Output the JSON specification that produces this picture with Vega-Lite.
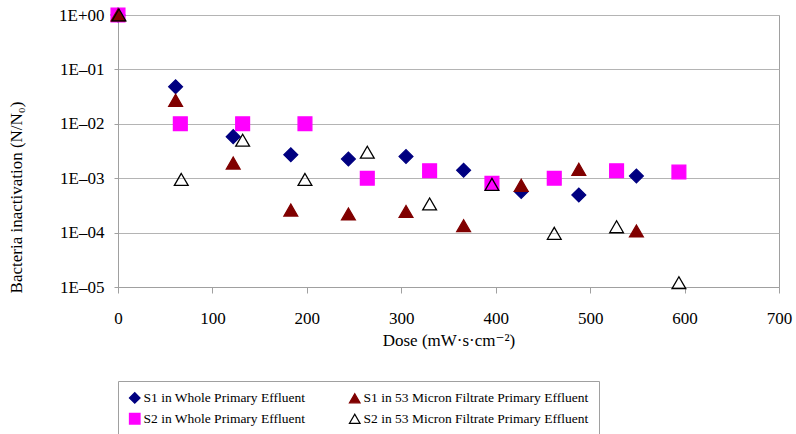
{
  "$schema": "https://vega.github.io/schema/vega-lite/v6.json",
  "width": 661,
  "height": 272,
  "autosize": {"type": "none"},
  "padding": {"left": 118, "top": 15, "right": 17, "bottom": 147},
  "background": "white",
  "data": {
    "values": [
      {"series": "S1 in Whole Primary Effluent", "dose": 0, "value": 1},
      {"series": "S1 in Whole Primary Effluent", "dose": 61, "value": 0.048},
      {"series": "S1 in Whole Primary Effluent", "dose": 122, "value": 0.0058},
      {"series": "S1 in Whole Primary Effluent", "dose": 183, "value": 0.0027},
      {"series": "S1 in Whole Primary Effluent", "dose": 244, "value": 0.00225},
      {"series": "S1 in Whole Primary Effluent", "dose": 305, "value": 0.0025},
      {"series": "S1 in Whole Primary Effluent", "dose": 366, "value": 0.0014},
      {"series": "S1 in Whole Primary Effluent", "dose": 427, "value": 0.00057},
      {"series": "S1 in Whole Primary Effluent", "dose": 488, "value": 0.00049},
      {"series": "S1 in Whole Primary Effluent", "dose": 549, "value": 0.0011},
      {"series": "S2 in Whole Primary Effluent", "dose": 0, "value": 1},
      {"series": "S2 in Whole Primary Effluent", "dose": 66, "value": 0.01},
      {"series": "S2 in Whole Primary Effluent", "dose": 132, "value": 0.01},
      {"series": "S2 in Whole Primary Effluent", "dose": 198, "value": 0.01},
      {"series": "S2 in Whole Primary Effluent", "dose": 264, "value": 0.001},
      {"series": "S2 in Whole Primary Effluent", "dose": 330, "value": 0.00137},
      {"series": "S2 in Whole Primary Effluent", "dose": 396, "value": 0.00081},
      {"series": "S2 in Whole Primary Effluent", "dose": 462, "value": 0.001},
      {"series": "S2 in Whole Primary Effluent", "dose": 528, "value": 0.00137},
      {"series": "S2 in Whole Primary Effluent", "dose": 594, "value": 0.0013},
      {"series": "S1 in 53 Micron Filtrate Primary Effluent", "dose": 0, "value": 1},
      {"series": "S1 in 53 Micron Filtrate Primary Effluent", "dose": 61, "value": 0.027},
      {"series": "S1 in 53 Micron Filtrate Primary Effluent", "dose": 122, "value": 0.0019},
      {"series": "S1 in 53 Micron Filtrate Primary Effluent", "dose": 183, "value": 0.00026},
      {"series": "S1 in 53 Micron Filtrate Primary Effluent", "dose": 244, "value": 0.00022},
      {"series": "S1 in 53 Micron Filtrate Primary Effluent", "dose": 305, "value": 0.000245},
      {"series": "S1 in 53 Micron Filtrate Primary Effluent", "dose": 366, "value": 0.000134},
      {"series": "S1 in 53 Micron Filtrate Primary Effluent", "dose": 427, "value": 0.00074},
      {"series": "S1 in 53 Micron Filtrate Primary Effluent", "dose": 488, "value": 0.00146},
      {"series": "S1 in 53 Micron Filtrate Primary Effluent", "dose": 549, "value": 0.000107},
      {"series": "S2 in 53 Micron Filtrate Primary Effluent", "dose": 1, "value": 1},
      {"series": "S2 in 53 Micron Filtrate Primary Effluent", "dose": 67, "value": 0.00095},
      {"series": "S2 in 53 Micron Filtrate Primary Effluent", "dose": 132, "value": 0.005},
      {"series": "S2 in 53 Micron Filtrate Primary Effluent", "dose": 198, "value": 0.00095},
      {"series": "S2 in 53 Micron Filtrate Primary Effluent", "dose": 264, "value": 0.003},
      {"series": "S2 in 53 Micron Filtrate Primary Effluent", "dose": 330, "value": 0.000336},
      {"series": "S2 in 53 Micron Filtrate Primary Effluent", "dose": 396, "value": 0.00077},
      {"series": "S2 in 53 Micron Filtrate Primary Effluent", "dose": 462, "value": 0.000097},
      {"series": "S2 in 53 Micron Filtrate Primary Effluent", "dose": 528, "value": 0.000128},
      {"series": "S2 in 53 Micron Filtrate Primary Effluent", "dose": 594, "value": 0.000012}
    ]
  },
  "mark": {"type": "point", "size": 190, "strokeWidth": 1.3, "opacity": 1},
  "encoding": {
    "x": {
      "field": "dose",
      "type": "quantitative",
      "scale": {"domain": [0, 700], "nice": false, "zero": true},
      "axis": {
        "values": [0, 100, 200, 300, 400, 500, 600, 700],
        "title": "Dose (mW·s·cm⁻²)",
        "grid": false,
        "tickSize": 6,
        "labelPadding": 17,
        "titlePadding": 6
      }
    },
    "y": {
      "field": "value",
      "type": "quantitative",
      "scale": {"type": "log", "domain": [0.00001, 1], "nice": false},
      "axis": {
        "values": [1, 0.1, 0.01, 0.001, 0.0001, 0.00001],
        "labelExpr": "datum.value >= 1 ? '1E+00' : '1E–0' + round(-log(datum.value) / LN10)",
        "title": "Bacteria inactivation (N/N₀)",
        "grid": true,
        "tickSize": 4,
        "labelPadding": 10,
        "titleX": -102,
        "titleY": 182,
        "titleAngle": 270,
        "titleAlign": "center",
        "titleBaseline": "middle"
      }
    },
    "shape": {
      "field": "series",
      "type": "nominal",
      "title": null,
      "scale": {
        "domain": [
          "S1 in Whole Primary Effluent",
          "S2 in Whole Primary Effluent",
          "S1 in 53 Micron Filtrate Primary Effluent",
          "S2 in 53 Micron Filtrate Primary Effluent"
        ],
        "range": ["diamond", "square", "triangle-up", "triangle-up"]
      }
    },
    "fill": {
      "field": "series",
      "type": "nominal",
      "title": null,
      "scale": {
        "domain": [
          "S1 in Whole Primary Effluent",
          "S2 in Whole Primary Effluent",
          "S1 in 53 Micron Filtrate Primary Effluent",
          "S2 in 53 Micron Filtrate Primary Effluent"
        ],
        "range": ["#000080", "#ff00ff", "#800000", "transparent"]
      }
    },
    "stroke": {
      "field": "series",
      "type": "nominal",
      "title": null,
      "scale": {
        "domain": [
          "S1 in Whole Primary Effluent",
          "S2 in Whole Primary Effluent",
          "S1 in 53 Micron Filtrate Primary Effluent",
          "S2 in 53 Micron Filtrate Primary Effluent"
        ],
        "range": ["#000080", "#ff00ff", "#800000", "#000000"]
      }
    }
  },
  "config": {
    "font": "Liberation Serif, DejaVu Serif, serif",
    "view": {"stroke": "#a0a0a0", "strokeWidth": 1},
    "axis": {
      "labelFont": "Liberation Serif, DejaVu Serif, serif",
      "titleFont": "Liberation Serif, DejaVu Serif, serif",
      "labelFontSize": 17,
      "titleFontSize": 17,
      "titleFontWeight": "normal",
      "labelColor": "#000000",
      "titleColor": "#000000",
      "domainColor": "#a0a0a0",
      "tickColor": "#a0a0a0",
      "gridColor": "#b4b4b4",
      "gridWidth": 1.2,
      "labelFlush": false,
      "labelOverlap": false
    },
    "legend": {
      "orient": "none",
      "legendX": 0,
      "legendY": 366,
      "columns": 2,
      "columnPadding": 40,
      "rowPadding": 4,
      "padding": 10,
      "strokeColor": "#a0a0a0",
      "fillColor": "white",
      "labelFont": "Liberation Serif, DejaVu Serif, serif",
      "labelFontSize": 13.5,
      "labelColor": "#000000",
      "labelOffset": 2,
      "labelLimit": 400,
      "symbolSize": 110,
      "symbolStrokeWidth": 1.3
    }
  }
}
